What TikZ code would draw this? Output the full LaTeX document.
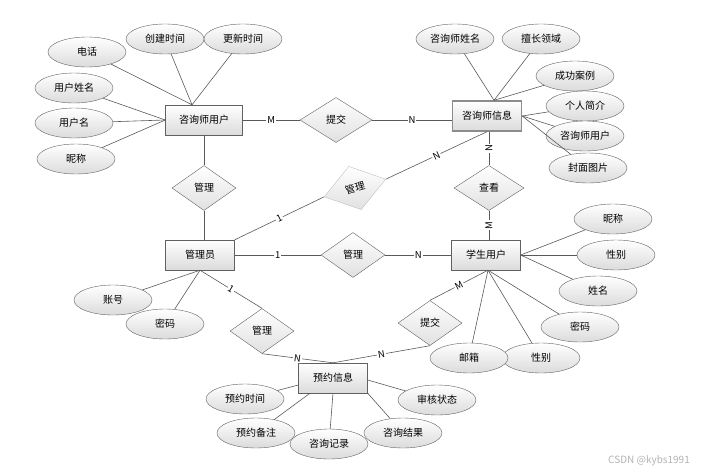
\documentclass[tikz,border=0pt]{standalone}
\usepackage{fontspec}
\setmainfont{Noto Sans CJK SC}
\usetikzlibrary{shapes.geometric}

\begin{document}
\begin{tikzpicture}[x=1pt,y=-1pt,font=\fontsize{10}{12}\selectfont]
\tikzstyle{ent}=[rectangle, draw=black!62, top color=white, bottom color=black!14, minimum width=69pt, minimum height=30pt, inner sep=1pt]
\tikzstyle{rel}=[diamond, draw=black!62, top color=white, bottom color=black!12, minimum width=64pt, minimum height=45pt, inner sep=0pt]
\tikzstyle{att}=[ellipse, draw=black!62, top color=white, bottom color=black!14, minimum width=78pt, minimum height=30pt, inner sep=0pt]
\tikzstyle{lnk}=[draw=black!65, line width=0.6pt]
\tikzstyle{card}=[fill=white, inner sep=1pt, font=\fontsize{9.5}{10}\selectfont]
\useasboundingbox (0,0) rectangle (715,474);
% entities
\node[ent, minimum width=77pt] (e1) at (204,120){咨询师用户};
\node[ent, draw=black!45, line width=1.4pt] (e2) at (487,116){咨询师信息};
\node[ent] (e3) at (200,255){管理员};
\node[ent] (e4) at (486,255){学生用户};
\node[ent] (e5) at (333,378){预约信息};
% relations
\node[rel, minimum width=72pt] (r1) at (336,120){提交};
\node[rel] (r2) at (204,188){管理};
\node[rel, rotate=16, draw=black!25] (r3) at (355,188){管理};
\node[rel, minimum width=70pt] (r4) at (489,188){查看};
\node[rel] (r5) at (353,255){管理};
\node[rel] (r6) at (262,331){管理};
\node[rel] (r7) at (430,323){提交};
% attributes
\node[att] (a11) at (87,52){电话};
\node[att] (a12) at (165,39){创建时间};
\node[att] (a13) at (243,39){更新时间};
\node[att] (a14) at (74,88){用户姓名};
\node[att] (a15) at (74,123){用户名};
\node[att] (a16) at (76,159){昵称};
\node[att] (a21) at (455,39){咨询师姓名};
\node[att] (a22) at (541,39){擅长领域};
\node[att] (a23) at (575,76){成功案例};
\node[att] (a24) at (585,106){个人简介};
\node[att] (a25) at (585,136){咨询师用户};
\node[att] (a26) at (588,168){封面图片};
\node[att] (a31) at (113,300){账号};
\node[att] (a32) at (165,324){密码};
\node[att] (a41) at (613,219){昵称};
\node[att] (a42) at (616,255){性别};
\node[att] (a43) at (598,291){姓名};
\node[att] (a44) at (580,327){密码};
\node[att] (a45) at (541,358){性别};
\node[att] (a46) at (469,358){邮箱};
\node[att] (a51) at (245,399){预约时间};
\node[att] (a52) at (256,433){预约备注};
\node[att] (a53) at (329,444){咨询记录};
\node[att] (a54) at (403,433){咨询结果};
\node[att] (a55) at (437,400){审核状态};
\node[text=black!30] (wm) at (649,461){CSDN @kybs1991};
% attribute links
\foreach \a in {a11,a12,a13} {\draw[lnk] (\a) -- ([xshift=-12pt]e1.north);}
\foreach \a in {a14,a15,a16} {\draw[lnk] (\a) -- (e1.west);}
\foreach \a in {a21,a22,a23} {\draw[lnk] (\a) -- ([xshift=7pt]e2.north);}
\foreach \a in {a24,a25,a26} {\draw[lnk] (\a) -- (e2.east);}
\foreach \a in {a31,a32} {\draw[lnk] (\a) -- (e3.south);}
\foreach \a in {a41,a42,a43} {\draw[lnk] (\a) -- (e4.east);}
\foreach \a in {a44,a45,a46} {\draw[lnk] (\a) -- ([xshift=2pt]e4.south);}
\draw[lnk] (a51) -- ([yshift=-7pt]e5.west);
\draw[lnk] (a52) -- ([xshift=-23pt]e5.south);
\draw[lnk] (a53) -- (e5.south);
\draw[lnk] (a54) -- (e5.south east);
\draw[lnk] (a55) -- ([yshift=-2pt]e5.east);
% relation links
\draw[lnk] (e1.east) -- node[card, midway]{M} (r1.west);
\draw[lnk] (r1.east) -- node[card, midway]{N} (e2.west |- r1);
\draw[lnk] (e1.south) -- (r2.north);
\draw[lnk] (r2.south) -- (r2.south |- e3.north);
\draw[lnk] (e3.north east) -- node[card, midway, sloped]{1} (r3.west);
\draw[lnk] (r3.east) -- node[card, midway, sloped]{N} (e2.south);
\draw[lnk] (r4.north |- e2.south) -- node[card, midway, rotate=90]{N} (r4.north);
\draw[lnk] (r4.south) -- node[card, midway, rotate=90]{M} (r4.south |- e4.north);
\draw[lnk] (e3.east) -- node[card, midway]{1} (r5.west);
\draw[lnk] (r5.east) -- node[card, midway]{N} (e4.west);
\draw[lnk] (e3.south) -- node[card, midway, sloped]{1} (r6.north);
\draw[lnk] (r6.south) -- node[card, midway, sloped]{N} (e5.north);
\draw[lnk] ([xshift=2pt]e4.south) -- node[card, midway, sloped]{M} (r7.north);
\draw[lnk] (r7.south) -- node[card, midway, sloped]{N} (e5.north);
\end{tikzpicture}
\end{document}
